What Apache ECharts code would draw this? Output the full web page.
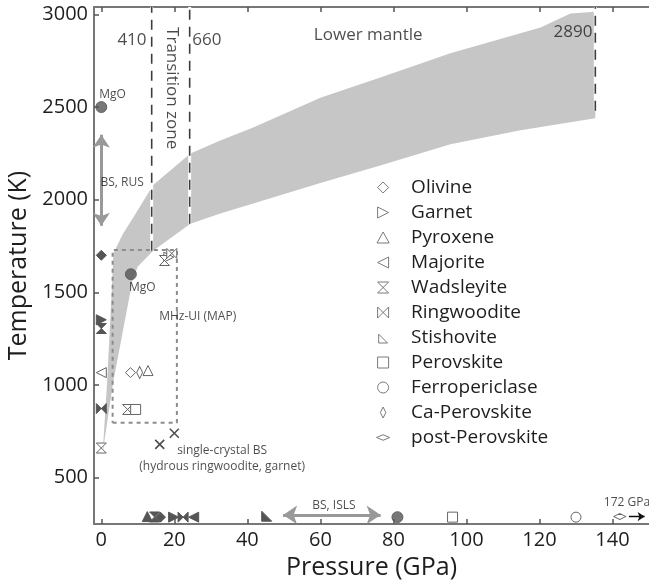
<!DOCTYPE html>
<html>
<head>
<meta charset="utf-8">
<title>Elasticity measurements vs mantle P-T</title>
<script src="https://cdn.jsdelivr.net/npm/echarts@6.0.0/dist/echarts.min.js"></script>
<style>
  html, body { margin: 0; padding: 0; background: #fff; }
  #chart { width: 649px; height: 582px; }
</style>
</head>
<body>
<div id="chart"></div>
<script>
// axis ticks
const xTicks = [0, 20, 40, 60, 80, 100, 120, 140];
const yTicks = [500, 1000, 1500, 2000, 2500, 3000];

// mantle temperature band [GPa, K], both edges left -> right
const bandUpper = [[0.4, 640], [1.6, 1020], [3.0, 1560], [3.3, 1710], [5.9, 1815], [8.8, 1905],
  [14.2, 2080], [24.4, 2250], [32.6, 2320], [41.6, 2390], [60, 2550], [76.4, 2660],
  [95.6, 2790], [120.3, 2930], [128.5, 3005], [135.3, 3015]];
const bandLower = [[0.4, 640], [3.3, 1020], [8.5, 1560], [10, 1640], [14.2, 1725], [24.4, 1870],
  [32.6, 1925], [41.6, 1980], [60, 2090], [76.4, 2185], [95.6, 2300], [114.8, 2375], [135.3, 2440]];

// discontinuities (dashed)
const line410 = [[13.8, 1725], [13.8, 3040]];
const line660 = [[24.2, 1870], [24.2, 3040]];
const line2890 = [[135.3, 2480], [135.3, 3040]];

// MHz-UI box
const mhzBox = [[3.1, 797], [20.7, 797], [20.7, 1729], [3.1, 1729], [3.1, 797]];

// arrows
const rusArrow = [[0, 2350], [0, 1860]];
const islsArrow = [[49.8, 299], [76.5, 299]];
const highPArrow = [[144.5, 290], [148.8, 290]];

// measurements: open = simultaneous P-T, filled = ambient T or ambient P
const olivineOpen = [[8.0, 1067]];
const olivineFilled = [[0, 1700], [16.2, 287]];
const garnetOpen = [[18.5, 1690]];
const garnetFilled = [[0, 1352], [19.8, 287]];
const pyroxeneOpen = [[12.8, 1078]];
const pyroxeneFilled = [[12.6, 290]];
const majoriteOpen = [[0, 1067]];
const majoriteFilled = [[25.3, 287]];
const wadsleyiteOpen = [[0, 660], [7.2, 868], [17.3, 1672]];
const wadsleyiteFilled = [[0, 1305], [14.6, 288]];
const ringwooditeOpen = [[19.3, 1710]];
const ringwooditeFilled = [[0, 873], [22.4, 287]];
const stishoviteOpen = [];
const stishoviteFilled = [[45.3, 292]];
const perovskiteOpen = [[9.4, 868], [96.2, 287]];
const ferropericlaseOpen = [[130, 287]];
const caPerovskiteOpen = [[10.5, 1067]];
const postPerovskiteOpen = [[142, 290]];
const mgoPoints = [[0, 2500], [8.1, 1598], [81.1, 287]];
const singleCrystal = [[16, 680], [20, 740]];

// text annotations [text, GPa, K]
const headerLabels = [['410', 8.4, 2862], ['660', 28.9, 2862], ['Lower mantle', 73.1, 2889], ['2890', 129.2, 2905]];
const zoneLabels = [['Transition zone', 19.4, 2602]];
const noteLabels = [['MgO', 3.1, 2565], ['BS, RUS', 5.7, 2094], ['MgO', 11.2, 1524], ['MHz-UI (MAP)', 26.4, 1372],
  ['single-crystal BS', 33.1, 644], ['(hydrous ringwoodite, garnet)', 33.1, 558], ['BS, ISLS', 63.7, 347]];
const edgeLabels = [['172 GPa', 137.5, 363]];

const FONT = "'Open Sans', 'DejaVu Sans', sans-serif";
const INK = '#1e1e1e';
const MARK = '#555';

const SYM = {
  diamond: 'path://M5,0L10,5L5,10L0,5Z',
  right: 'path://M0,0L10,5L0,10Z',
  up: 'path://M5,0L10,9L0,9Z',
  left: 'path://M10,0L0,5L10,10Z',
  hourglass: 'path://M0,0L10,0L0,10L10,10Z',
  bowtie: 'path://M0,0L10,10L10,0L0,10Z',
  stish: 'path://M0,0L10,10L0,10Z',
  square: 'path://M0,0L10,0L10,10L0,10Z',
  thin: 'path://M3,0L6,6L3,12L0,6Z',
  flat: 'path://M0,3L6,0L12,3L6,6Z',
  cross: 'path://M0,0L10,10M10,0L0,10'
};

const minerals = [
  { name: 'Olivine', symbol: SYM.diamond, size: 10, open: olivineOpen, filled: olivineFilled, icon: SYM.diamond },
  { name: 'Garnet', symbol: SYM.right, size: 10, open: garnetOpen, filled: garnetFilled, icon: SYM.right },
  { name: 'Pyroxene', symbol: SYM.up, size: 10, open: pyroxeneOpen, filled: pyroxeneFilled, icon: SYM.up },
  { name: 'Majorite', symbol: SYM.left, size: 10, open: majoriteOpen, filled: majoriteFilled, icon: SYM.left },
  { name: 'Wadsleyite', symbol: SYM.hourglass, size: 10, open: wadsleyiteOpen, filled: wadsleyiteFilled, icon: SYM.hourglass },
  { name: 'Ringwoodite', symbol: SYM.bowtie, size: 10, open: ringwooditeOpen, filled: ringwooditeFilled, icon: SYM.bowtie },
  { name: 'Stishovite', symbol: SYM.stish, size: 10, open: stishoviteOpen, filled: stishoviteFilled, icon: 'path://M0,0M1,2L9,10L1,10ZM10,10' },
  { name: 'Perovskite', symbol: SYM.square, size: 10, open: perovskiteOpen, filled: [], icon: SYM.square },
  { name: 'Ferropericlase', symbol: 'circle', size: 10, open: ferropericlaseOpen, filled: [], icon: 'circle' },
  { name: 'Ca-Perovskite', symbol: SYM.thin, size: [6, 12], open: caPerovskiteOpen, filled: [], icon: SYM.thin },
  { name: 'post-Perovskite', symbol: SYM.flat, size: [12, 6], open: postPerovskiteOpen, filled: [], icon: 'path://M0,0M0,5L6,2.5L12,5L6,7.5ZM12,10' }
];

const chart = echarts.init(document.getElementById('chart'));

function textSeries(list, label) {
  return {
    type: 'scatter', silent: true, z: 8, symbolSize: 1,
    itemStyle: { color: 'transparent' },
    label: Object.assign({ show: true, position: 'inside', formatter: '{b}', color: INK, fontFamily: FONT }, label),
    data: list.map(d => ({ name: d[0], value: [d[1], d[2]] }))
  };
}

function dashLine(data) {
  return [
    { type: 'line', data: data, symbol: 'none', silent: true, z: 3,
      lineStyle: { color: '#fff', width: 3 } },
    { type: 'line', data: data, symbol: 'none', silent: true, z: 4,
      lineStyle: { color: '#3c3c3c', width: 1.6, type: [10, 7] } }
  ];
}

function arrow(coords, color, width, size, both) {
  return {
    type: 'lines', coordinateSystem: 'cartesian2d', silent: true, z: 6,
    symbol: both ? ['arrow', 'arrow'] : ['none', 'arrow'],
    symbolSize: size,
    lineStyle: { color: color, width: width, opacity: 1 },
    data: [{ coords: coords }]
  };
}

const mineralSeries = minerals.map(m => ({
  name: m.name, type: 'scatter', z: 7, symbol: m.symbol, symbolSize: m.size,
  itemStyle: { color: '#fff', borderColor: '#666', borderWidth: 1, opacity: 1 },
  data: m.open.map(p => ({ value: p }))
    .concat(m.filled.map(p => ({ value: p, itemStyle: { color: MARK, borderColor: MARK } })))
}));

const option = {
  animation: false,
  backgroundColor: '#fff',
  grid: { left: 94, right: 0, top: 7, bottom: 58, outerBoundsMode: 'none' },
  legend: {
    orient: 'vertical', left: 371, top: 173,
    itemWidth: 46, itemHeight: 11, itemGap: 6,
    selectedMode: false,
    itemStyle: { color: '#fff', borderColor: '#7a7a7a', borderWidth: 1 },
    textStyle: { fontSize: 19, color: INK, fontFamily: FONT },
    data: minerals.map(m => ({ name: m.name, icon: m.icon }))
  },
  xAxis: [{
    type: 'value', min: -2, max: 150, position: 'bottom',
    splitLine: { show: false },
    axisLine: { onZero: false, lineStyle: { color: '#777', width: 2 } },
    axisTick: { inside: true, length: 5, customValues: xTicks, lineStyle: { color: '#555', width: 1.5 } },
    axisLabel: { customValues: xTicks, fontSize: 20, color: INK, fontFamily: FONT, margin: 6, formatter: v => String(v) },
    name: 'Pressure (GPa)', nameLocation: 'middle', nameGap: 29,
    nameTextStyle: { fontSize: 25, color: INK, fontFamily: FONT }
  }, {
    type: 'value', min: -2, max: 150, position: 'top',
    splitLine: { show: false },
    axisLine: { onZero: false, lineStyle: { color: '#777', width: 2 } },
    axisTick: { inside: true, length: 5, customValues: xTicks, lineStyle: { color: '#555', width: 1.5 } },
    axisLabel: { show: false }
  }],
  yAxis: {
    type: 'value', min: 250, max: 3040,
    splitLine: { show: false },
    axisLine: { onZero: false, lineStyle: { color: '#777', width: 2 } },
    axisTick: { inside: true, length: 5, customValues: yTicks, lineStyle: { color: '#555', width: 1.5 } },
    axisLabel: { customValues: yTicks, fontSize: 20, color: INK, fontFamily: FONT, margin: 6, formatter: v => String(v) },
    name: 'Temperature (K)', nameLocation: 'middle', nameGap: 54,
    nameTextStyle: { fontSize: 25, color: INK, fontFamily: FONT }
  },
  series: [
    {
      type: 'custom', silent: true, z: 1,
      data: [[0, 0]],
      renderItem: function (params, api) {
        const pts = bandUpper.concat(bandLower.slice().reverse()).map(p => api.coord(p));
        return { type: 'polygon', shape: { points: pts }, style: { fill: '#c6c6c6' } };
      }
    },
    ...dashLine(line410),
    ...dashLine(line660),
    ...dashLine(line2890),
    {
      type: 'line', data: mhzBox, symbol: 'none', silent: true, z: 4,
      lineStyle: { color: '#8c8c8c', width: 2, type: [4, 4] }
    },
    arrow(rusArrow, '#999', 3, 13, true),
    arrow(islsArrow, '#999', 3, 14, true),
    arrow(highPArrow, '#111', 1.3, 7, false),
    ...mineralSeries,
    {
      type: 'scatter', z: 7, symbol: 'circle', symbolSize: 11,
      itemStyle: { color: MARK, borderColor: MARK, borderWidth: 1 },
      data: mgoPoints
    },
    {
      type: 'scatter', z: 7, symbol: SYM.cross, symbolSize: 9,
      itemStyle: { color: 'transparent', borderColor: '#222', borderWidth: 1.6 },
      data: singleCrystal
    },
    textSeries(headerLabels, { fontSize: 17 }),
    textSeries(zoneLabels, { fontSize: 17, rotate: -90 }),
    textSeries(noteLabels, { fontSize: 12 }),
    textSeries(edgeLabels, { fontSize: 12, position: 'right', distance: 0 })
  ]
};

chart.setOption(option);
window.onresize = chart.resize;
</script>
</body>
</html>
